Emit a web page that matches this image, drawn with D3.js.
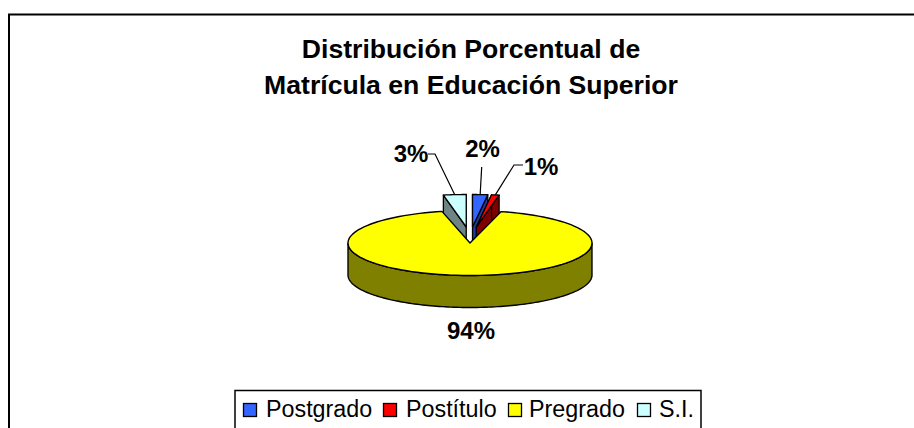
<!DOCTYPE html>
<html><head><meta charset="utf-8">
<script src="https://cdnjs.cloudflare.com/ajax/libs/d3/7.8.5/d3.min.js"></script>
<style>html,body{margin:0;padding:0;background:#fff;overflow:hidden}svg{display:block}text{font-family:"Liberation Sans",Arial,sans-serif;fill:#000}</style>
</head><body><svg id="c" width="914" height="428"></svg>
<script>
const categories=["Postgrado","Postítulo","Pregrado","S.I."];
const values=[2,1,94,3];
const labels=["2%","1%","94%","3%"];
const topColors=["#3366ff","#ff0000","#ffff00","#ccffff"];
const sideColors=["#1f3d99","#800000","#808000","#6f8585"];
const titleLines=["Distribución Porcentual de","Matrícula en Educación Superior"];

const svg=d3.select("#c");
svg.append("rect").attr("x",9).attr("y",14.5).attr("width",930).attr("height",440).attr("fill","#fff").attr("stroke","#000").attr("stroke-width",2);
svg.append("g").selectAll("text").data(titleLines).join("text")
 .attr("x",471).attr("y",(d,i)=>[58,94][i]).attr("text-anchor","middle").attr("font-size",26.6).attr("font-weight","bold").text(d=>d);

const cx=470,cy=243,rx=122,ry=32.5,depth=32,explodeX=40,explodeY=16;
const notchRight=4*Math.PI/180,notchLeft=2.5*Math.PI/180;
const pie=d3.pie().sort(null).value(d=>d).startAngle(0).endAngle(2*Math.PI)(values);
const bigIndex=2;
const off=d=>{const m=(d.startAngle+d.endAngle)/2;return d.index===bigIndex?[0,0]:[explodeX*Math.sin(m),-explodeY];};
const pt=(d,a,r)=>{const o=off(d);return [cx+o[0]+r*rx*Math.sin(a),cy+o[1]-r*ry*Math.cos(a)];};
const angles=d=>d.index===bigIndex?[d.startAngle+notchRight,d.endAngle-notchLeft]:[d.startAngle,d.endAngle];
const line=d3.line();
function topFace(d){
 const [a0,a1]=angles(d);
 const arcPts=d3.range(121).map(j=>pt(d,a0+(a1-a0)*j/120,1));
 return line([pt(d,0,0),...arcPts])+"Z";
}
function rimWall(d){
 const [a0,a1]=angles(d);
 const as=d3.range(241).map(j=>a0+(a1-a0)*j/240).filter(a=>Math.cos(a)<=0);
 if(!as.length)return null;
 const up=as.map(a=>pt(d,a,1));
 const dn=as.slice().reverse().map(a=>{const q=pt(d,a,1);return [q[0],q[1]+depth];});
 return line([...up,...dn])+"Z";
}
function cutWalls(d){
 const [a0,a1]=angles(d);const c=pt(d,0,0);
 return [a0,a1].map(a=>{const q=pt(d,a,1);return line([c,q,[q[0],q[1]+depth],[c[0],c[1]+depth]])+"Z";}).join("");
}
const order=[0,1,3,2].map(i=>pie[i]);
const g=svg.append("g");
const small=order.filter(d=>d.index!==bigIndex);
g.selectAll("path.cut").data(small).join("path").attr("class","cut").attr("d",cutWalls)
 .attr("fill",d=>sideColors[d.index]).attr("stroke","#000").attr("stroke-width",1.3).attr("stroke-linejoin","round");
g.selectAll("path.smalltop").data(small).join("path").attr("class","smalltop").attr("d",topFace)
 .attr("fill",d=>topColors[d.index]).attr("stroke","#000").attr("stroke-width",1.3).attr("stroke-linejoin","round");
g.selectAll("path.rim").data([pie[bigIndex]]).join("path").attr("class","rim").attr("d",rimWall)
 .attr("fill",d=>sideColors[d.index]).attr("stroke","#000").attr("stroke-width",1.4).attr("stroke-linejoin","round");
g.selectAll("path.bigtop").data([pie[bigIndex]]).join("path").attr("class","bigtop").attr("d",topFace)
 .attr("fill",d=>topColors[d.index]).attr("stroke","#000").attr("stroke-width",1.4).attr("stroke-linejoin","round");

const labelX=[482.5,541,471,411],labelY=[157,175,339,162];
// leader elbows start beside the label text and end at each raised slice's outer rim
const leaderStart=[[481.7,167],[523,165],null,[428,154]];
const leaderElbow=[null,[514,165],null,[435,154]];
g.selectAll("path.leader").data(pie.filter(d=>d.index!==bigIndex)).join("path").attr("class","leader")
 .attr("fill","none").attr("stroke","#000").attr("stroke-width",1.2)
 .attr("d",d=>{const m=(d.startAngle+d.endAngle)/2;const pts=[leaderStart[d.index]];if(leaderElbow[d.index])pts.push(leaderElbow[d.index]);pts.push(pt(d,m,1));return line(pts);});
g.selectAll("text").data(pie).join("text").attr("font-size",24).attr("font-weight","bold").attr("text-anchor","middle")
 .attr("x",d=>labelX[d.index]).attr("y",d=>labelY[d.index]).text(d=>labels[d.index]);

const lg=svg.append("g");
lg.append("rect").attr("x",235).attr("y",390.5).attr("width",466).attr("height",60).attr("fill","#fff").attr("stroke","#000").attr("stroke-width",1.5);
const lx=[243.5,383.5,508.5,637.5],tx=[266,406,529,659];
categories.forEach((c,i)=>{
 lg.append("rect").attr("x",lx[i]).attr("y",403.5).attr("width",13).attr("height",13).attr("fill",topColors[i]).attr("stroke","#000").attr("stroke-width",1.3);
 lg.append("text").attr("x",tx[i]).attr("y",417).attr("font-size",23.3).text(c);
});
</script></body></html>
